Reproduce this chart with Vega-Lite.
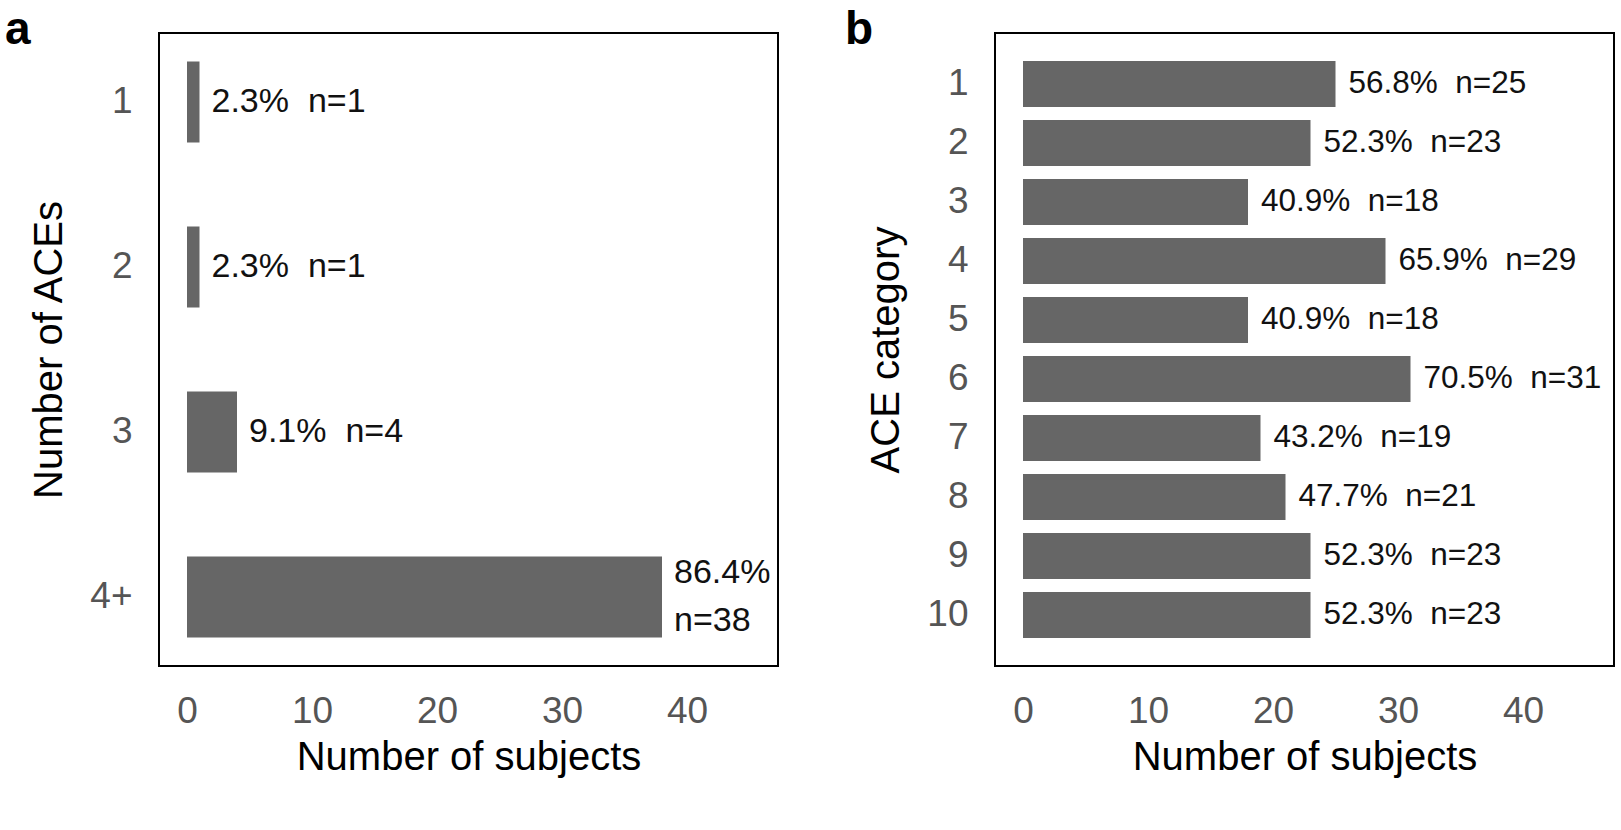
{
  "$schema": "https://vega.github.io/schema/vega-lite/v6.json",
  "padding": {"left": 4, "top": 6, "right": 0, "bottom": 0},
  "spacing": 217,
  "bounds": "flush",
  "config": {
    "font": "Liberation Sans",
    "view": {"stroke": "#000000", "strokeWidth": 2},
    "axis": {
      "domain": false, "ticks": false, "tickSize": 0, "grid": false,
      "labelFont": "Liberation Sans", "labelFontSize": 37, "labelColor": "#555555",
      "titleFont": "Liberation Sans", "titleFontSize": 40, "titleFontWeight": "normal", "titleColor": "#000000"
    },
    "axisX": {"labelPadding": 27, "titlePadding": 8},
    "axisY": {"labelPadding": 27, "titlePadding": 20},
    "title": {"font": "Liberation Sans", "fontSize": 46, "fontWeight": "bold", "anchor": "start", "color": "#000000", "frame": "group", "baseline": "alphabetic"}
  },
  "hconcat": [
    {
      "width": 619, "height": 633,
      "title": {"text": "a", "dx": -154, "offset": -21},
      "data": {"values": [
        {"k": "1", "n": 1, "label": "2.3%\u00a0 n=1"},
        {"k": "2", "n": 1, "label": "2.3%\u00a0 n=1"},
        {"k": "3", "n": 4, "label": "9.1%\u00a0 n=4"},
        {"k": "4+", "n": 38, "label": "86.4%\nn=38"}
      ]},
      "encoding": {
        "y": {"field": "k", "type": "nominal", "sort": null,
              "scale": {"paddingInner": 0.509, "paddingOuter": 0.173},
              "axis": {"title": "Number of ACEs", "labelAngle": 0}},
        "x": {"field": "n", "type": "quantitative",
              "scale": {"domain": [-2.24, 47.28], "nice": false, "zero": false},
              "axis": {"values": [0, 10, 20, 30, 40], "title": "Number of subjects"}}
      },
      "layer": [
        {"mark": {"type": "bar", "color": "#666666"}, "encoding": {"x2": {"datum": 0}}},
        {"transform": [{"filter": "datum.k !== '4+'"}],
         "mark": {"type": "text", "align": "left", "baseline": "middle", "dx": 12, "fontSize": 34, "color": "#111111", "font": "Liberation Sans"},
         "encoding": {"text": {"field": "label", "type": "nominal"}}},
        {"transform": [{"filter": "datum.k === '4+'"}],
         "mark": {"type": "text", "align": "left", "baseline": "middle", "dx": 12, "dy": -24, "fontSize": 34, "lineBreak": "\n", "lineHeight": 48, "color": "#111111", "font": "Liberation Sans"},
         "encoding": {"text": {"field": "label", "type": "nominal"}}}
      ]
    },
    {
      "width": 619, "height": 633,
      "title": {"text": "b", "dx": -150, "offset": -21},
      "data": {"values": [
        {"k": "1", "n": 25, "label": "56.8%\u00a0 n=25"},
        {"k": "2", "n": 23, "label": "52.3%\u00a0 n=23"},
        {"k": "3", "n": 18, "label": "40.9%\u00a0 n=18"},
        {"k": "4", "n": 29, "label": "65.9%\u00a0 n=29"},
        {"k": "5", "n": 18, "label": "40.9%\u00a0 n=18"},
        {"k": "6", "n": 31, "label": "70.5%\u00a0 n=31"},
        {"k": "7", "n": 19, "label": "43.2%\u00a0 n=19"},
        {"k": "8", "n": 21, "label": "47.7%\u00a0 n=21"},
        {"k": "9", "n": 23, "label": "52.3%\u00a0 n=23"},
        {"k": "10", "n": 23, "label": "52.3%\u00a0 n=23"}
      ]},
      "encoding": {
        "y": {"field": "k", "type": "nominal", "sort": null,
              "scale": {"paddingInner": 0.219, "paddingOuter": 0.475},
              "axis": {"title": "ACE category", "labelAngle": 0}},
        "x": {"field": "n", "type": "quantitative",
              "scale": {"domain": [-2.24, 47.28], "nice": false, "zero": false},
              "axis": {"values": [0, 10, 20, 30, 40], "title": "Number of subjects"}}
      },
      "layer": [
        {"mark": {"type": "bar", "color": "#666666"}, "encoding": {"x2": {"datum": 0}}},
        {"mark": {"type": "text", "align": "left", "baseline": "middle", "dx": 13, "fontSize": 31.5, "color": "#111111", "font": "Liberation Sans"},
         "encoding": {"text": {"field": "label", "type": "nominal"}}}
      ]
    }
  ]
}
